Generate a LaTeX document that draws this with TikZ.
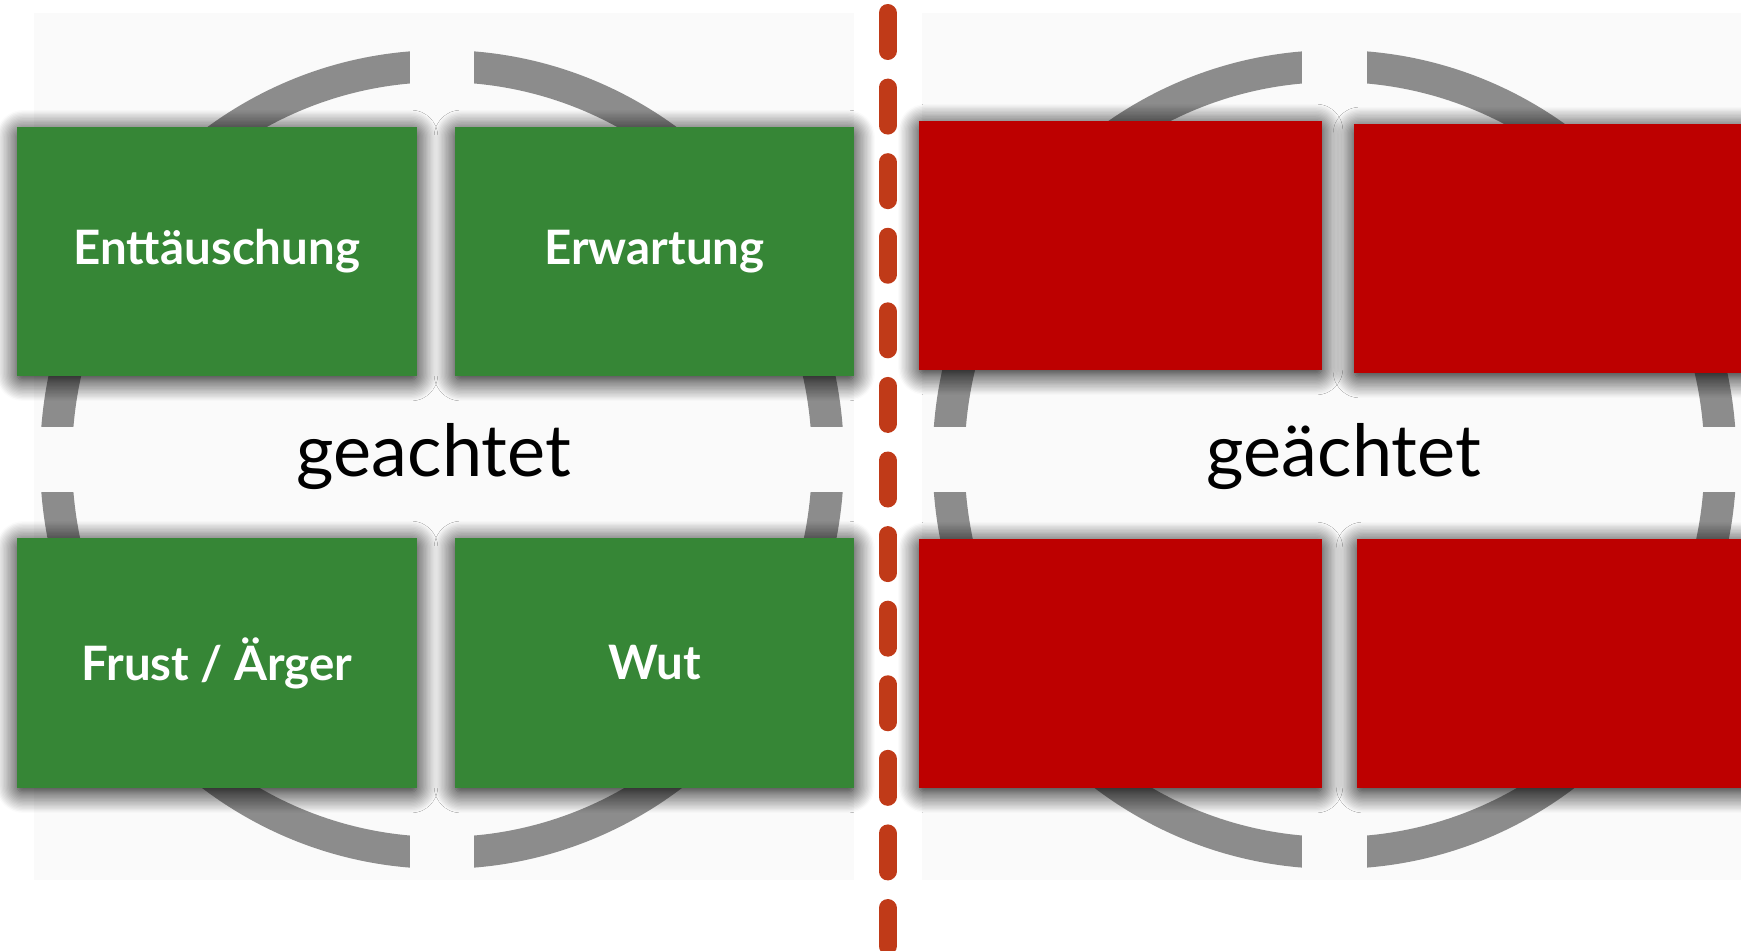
\documentclass[tikz,border=0pt]{standalone}
\usepackage{fontspec}
\setmainfont{Lato}
\usepackage{tikz}
\usetikzlibrary{shadows.blur}

\definecolor{boxgreen}{RGB}{54,134,54}
\definecolor{boxred}{RGB}{189,0,0}
\definecolor{ringgray}{RGB}{140,140,140}
\definecolor{panelbg}{RGB}{250,250,250}
\definecolor{cutline}{RGB}{192,58,24}

\begin{document}
\begin{tikzpicture}[x=0.02cm,y=-0.02cm,
        ring/.style={draw=ringgray,line width=0.64cm},
        gap/.style={fill=panelbg},
        card/.style={rectangle,inner sep=0pt,minimum width=8cm,minimum height=4.98cm,
            blur shadow={shadow xshift=0pt,shadow yshift=-0.08cm,
                shadow blur radius=0.42cm,shadow blur steps=16,
                shadow blur extra rounding=0.12cm,shadow opacity=100}},
        green/.style={card,fill=boxgreen,text=white,font=\bfseries\fontsize{27}{32}\selectfont},
        banned/.style={card,fill=boxred,minimum width=8.06cm},
        mood/.style={anchor=base,font=\fontsize{41}{48}\selectfont}]

    \useasboundingbox (0,0) rectangle (1741,950);

    % the two halves
    \fill[panelbg] (34,13) rectangle (854,880);
    \fill[panelbg] (922,13) rectangle (1741,880);

    % rings, cut open by a cross
    \coordinate (left ring) at (442,459.5);
    \coordinate (right ring) at (1334.5,459.5);
    \draw[ring] (left ring) ellipse [x radius=7.72cm, y radius=7.87cm];
    \draw[ring] (right ring) ellipse [x radius=7.72cm, y radius=7.87cm];
    \fill[gap] (410,40) rectangle (474,875);
    \fill[gap] (36,427) rectangle (852,492);
    \fill[gap] (1302,40) rectangle (1367,875);
    \fill[gap] (924,427) rectangle (1741,492);

    % dividing line
    \coordinate (cut top) at (887.5,13);
    \coordinate (cut bottom) at (887.5,970);
    \draw[cutline,line width=0.36cm,line cap=round,dash pattern=on 0.76cm off 0.732cm]
        (cut top) -- (cut bottom);

    \node[green] (enttaeuschung) at (217,251.5) {Enttäuschung};
    \node[green,minimum width=7.98cm] (erwartung) at (654.5,251.5) {Erwartung};
    \node[green,minimum height=5cm] (frust) at (217,663) {Frust / Ärger};
    \node[green,minimum height=5cm,minimum width=7.98cm] (wut) at (654.5,663) {Wut};

    \node[banned] (red tl) at (1120.5,245.5) {};
    \node[banned] (red tr) at (1555.5,248.5) {};
    \node[banned] (red bl) at (1120.5,663.5) {};
    \node[banned] (red br) at (1558.5,663.5) {};

    \node[mood] (geachtet) at (434,476) {geachtet};
    \node[mood] (geaechtet) at (1344,476) {geächtet};
\end{tikzpicture}
\end{document}
